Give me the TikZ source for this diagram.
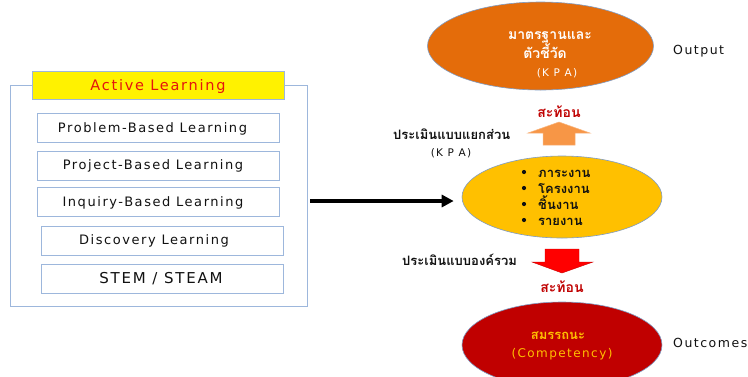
\documentclass[tikz,border=0pt]{standalone}
\usepackage{fontspec}
\setmainfont{DejaVu Sans}[LetterSpace=12]
\newfontfamily\thai[Script=Thai]{Loma}
\usetikzlibrary{shapes.geometric,arrows.meta}
\definecolor{frameblue}{HTML}{9DB7DC}
\definecolor{alred}{HTML}{E4140E}
\definecolor{orangeE}{HTML}{E46C0A}
\definecolor{yellowE}{HTML}{FFC000}
\definecolor{redE}{HTML}{C00000}
\definecolor{uparrow}{HTML}{F79646}
\definecolor{edgeE}{HTML}{7F9CC4}
\definecolor{txt}{HTML}{111111}
\begin{document}
\begin{tikzpicture}[x=1pt,y=-1pt,
  framebox/.style={draw=frameblue,line width=0.9pt,inner sep=0pt},
  itembox/.style={draw=frameblue,line width=0.9pt,fill=white,minimum width=242pt,minimum height=29pt,inner sep=0pt},
  itemtext/.style={font=\fontsize{13}{15}\selectfont,text=txt,inner sep=0pt,anchor=base},
  ell/.style={ellipse,draw=edgeE,line width=0.6pt,inner sep=0pt},
  thaitxt/.style={font=\thai\bfseries\fontsize{13}{15}\selectfont,text=txt,inner sep=0pt},
  sidetxt/.style={font=\fontsize{12.5}{14}\selectfont,text=txt,inner sep=0pt,anchor=base west},
  reflect/.style={font=\thai\bfseries\fontsize{14}{16}\selectfont,text=redE,inner sep=0pt,anchor=base},
  conn/.style={line width=3.2pt,-{Triangle[length=12pt,width=12pt]}}
]
\useasboundingbox (0,0) rectangle (748,376);
\clip (0,0) rectangle (748,376);
\fill[white] (0,0) rectangle (748,376);

% left frame
\node[framebox,minimum width=297pt,minimum height=221pt] (frame) at (158.5,195.5) {};
\node[draw=frameblue,line width=0.9pt,fill=yellow,minimum width=252pt,minimum height=28pt,inner sep=0pt] (al) at (158,85) {};
\node[font=\fontsize{14.5}{16}\selectfont,text=alred,inner sep=0pt,anchor=base] (altxt) at (158,90.5) {Active Learning};

\node[itembox] (b1) at (158,127.5) {};
\node[itembox] (b2) at (158,165.5) {};
\node[itembox] (b3) at (158,202) {};
\node[itembox] (b4) at (162,240.5) {};
\node[itembox] (b5) at (162,278.5) {};
\node[itemtext] (t1) at (152.5,132.5) {Problem-Based Learning};
\node[itemtext] (t2) at (153,169.5) {Project-Based Learning};
\node[itemtext] (t3) at (153,206.5) {Inquiry-Based Learning};
\node[itemtext] (t4) at (154,244.5) {Discovery Learning};
\node[itemtext,font=\fontsize{15}{17}\selectfont] (t5) at (161,283.5) {STEM / STEAM};

% ellipses
\node[ell,fill=orangeE,minimum width=226pt,minimum height=88pt] (kpa) at (540.5,46) {};
\node[ell,fill=yellowE,minimum width=200pt,minimum height=82pt] (work) at (562,197) {};
\node[ell,fill=redE,minimum width=200pt,minimum height=86pt] (comp) at (562,345) {};

% top ellipse text
\node[font=\thai\bfseries\fontsize{14}{16}\selectfont,text=white,inner sep=0pt,anchor=base] (k1) at (550,39.5) {มาตรฐานและ};
\node[font=\thai\bfseries\fontsize{14}{16}\selectfont,text=white,inner sep=0pt,anchor=base] (k2) at (545,58) {ตัวชี้วัด};
\node[font=\fontsize{10.5}{12}\selectfont,text=white,inner sep=0pt,anchor=base] (k3) at (557,76) {(K P A)};
\node[sidetxt] (out) at (673,54.5) {Output};

% reflect + up arrow
\node[reflect] (r1) at (559,117.5) {สะท้อน};
\path[fill=uparrow,draw=uparrow!70!white,line width=0.5pt]
  (543,145) -- (543,133) -- (528,133) -- (559,122) -- (590,133) -- (575,133) -- (575,145) -- cycle;
\node[thaitxt,anchor=base west] (e1) at (393,139.5) {ประเมินแบบแยกส่วน};
\node[font=\fontsize{10.5}{12}\selectfont,text=txt,inner sep=0pt,anchor=base] (e1b) at (451,156) {(K P A)};

% bullets
\foreach \yy/\tt in {177/ภาระงาน,193/โครงงาน,209/ชิ้นงาน,225/รายงาน}{
  \fill[txt] (524,\yy-5) circle (2.1pt);
  \node[thaitxt,anchor=base west] at (538,\yy) {\tt};
}

% connector
\coordinate (ay) at (0,201);
\draw[conn] ([xshift=3pt]frame.east |- ay) -- ([xshift=-8pt]work.west |- ay);

% down arrow
\path[fill=red,draw=red!80!black,line width=0.4pt]
  (545,249) -- (579,249) -- (579,262) -- (593,262) -- (562,273) -- (532,262) -- (545,262) -- cycle;
\node[thaitxt,anchor=base west] (e2) at (402,265.5) {ประเมินแบบองค์รวม};
\node[reflect] (r2) at (562,292.5) {สะท้อน};

% competency
\node[font=\thai\bfseries\fontsize{13}{15}\selectfont,text=yellowE,inner sep=0pt,anchor=base] (c1) at (558,339.5) {สมรรถนะ};
\node[font=\fontsize{12}{14}\selectfont,text=yellowE,inner sep=0pt,anchor=base] (c2) at (562,357.5) {(Competency)};
\node[sidetxt] (outc) at (673,347.5) {Outcomes};
\end{tikzpicture}
\end{document}
